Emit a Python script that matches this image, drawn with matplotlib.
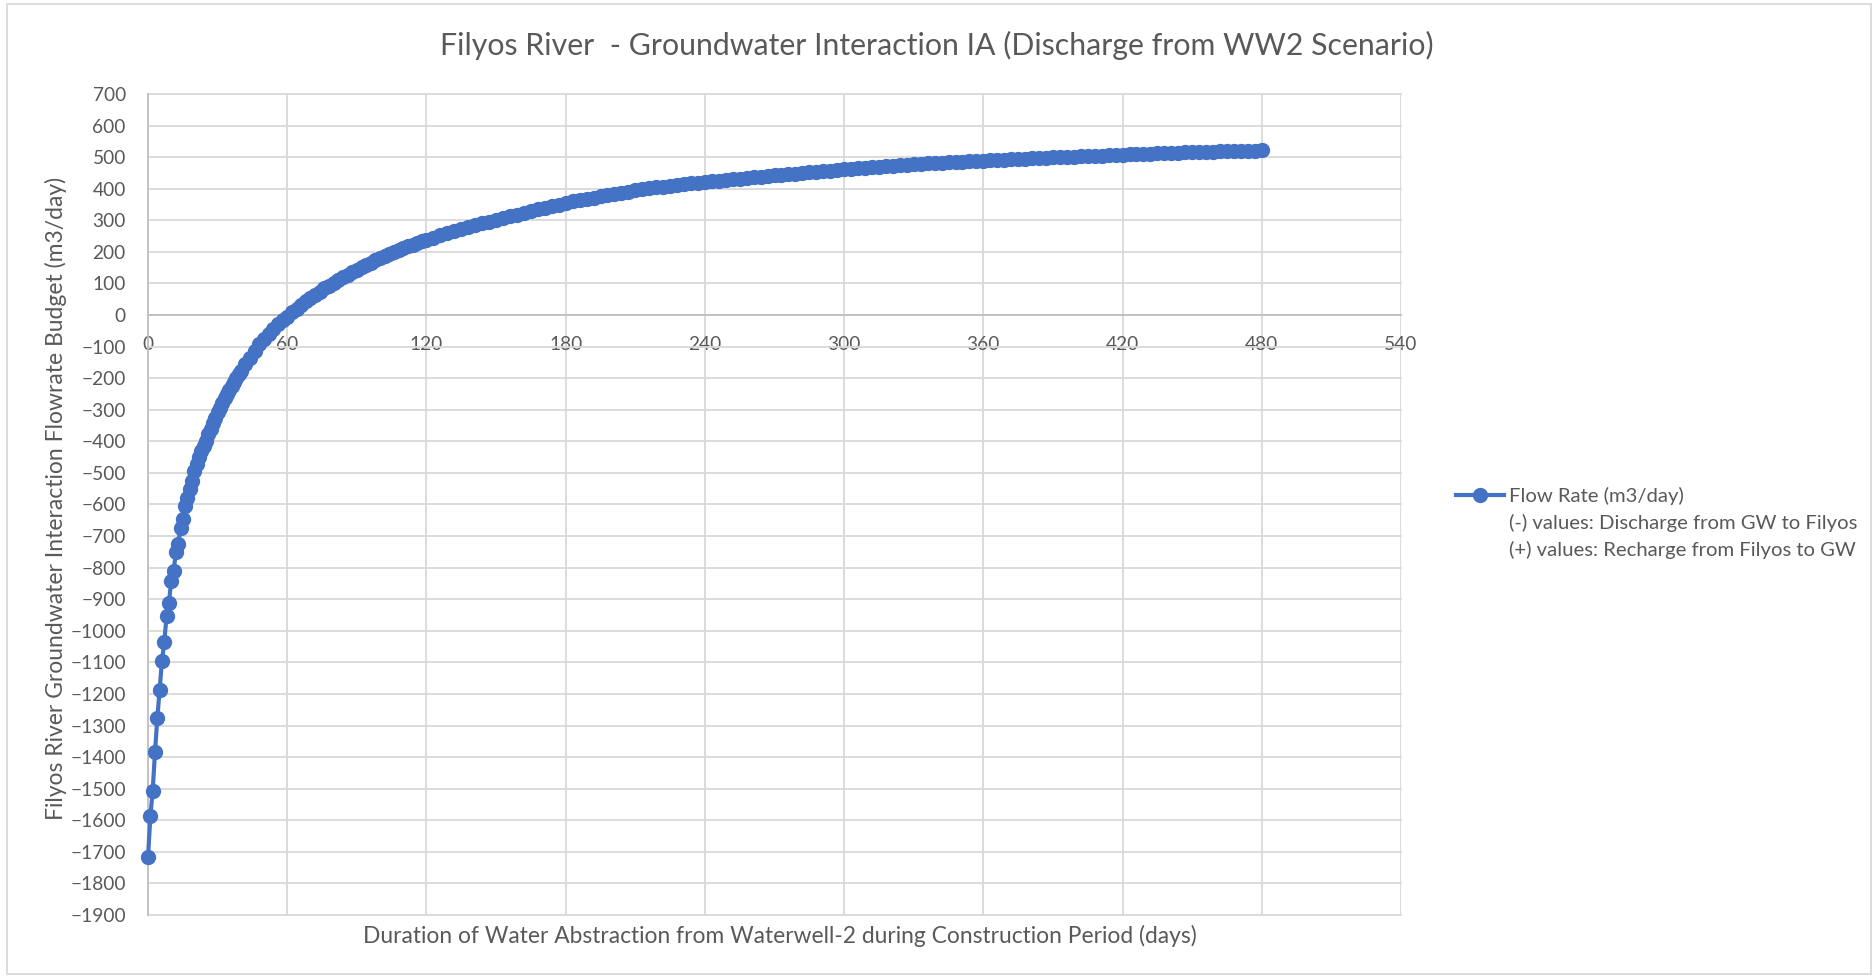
import matplotlib
matplotlib.use("Agg")
import matplotlib.pyplot as plt
from matplotlib.lines import Line2D
from matplotlib.patches import Rectangle

plt.rcParams["font.family"] = ["Lato", "DejaVu Sans"]

# flow rate (m3/day)
days_daily = list(range(0, 41))
flow_daily = [
    -1715, -1588, -1507, -1383, -1277, -1188, -1095, -1035, -952, -911,
    -841, -811, -752, -724, -673, -646, -604, -580, -550, -525,
    -495, -472, -450, -432, -414, -398, -378, -360, -342, -325,
    -308, -293, -278, -264, -250, -237, -224, -211, -199, -187,
    -176,
]

days_2day = list(range(42, 121, 2))
flow_2day = [
    -155, -135, -113, -93, -76, -59, -43, -30, -17, -5,
    8, 20, 32, 43, 54, 64, 74, 84, 93, 102,
    111, 119, 128, 136, 144, 151, 159, 166, 173, 180,
    186, 193, 199, 205, 211, 217, 222, 228, 233, 238,
]

days_3day = list(range(123, 481, 3))
flow_3day = [
    245, 252, 259, 265, 272, 278, 284, 290, 296, 301,
    307, 313, 318, 324, 329, 335, 340, 345, 350, 355,
    360, 364, 368, 372, 376, 380, 384, 388, 391, 395,
    398, 401, 404, 407, 410, 412, 415, 417, 419, 422,
    424, 426, 428, 430, 432, 434, 436, 438, 440, 442,
    444, 446, 448, 450, 452, 454, 456, 457, 459, 461,
    463, 465, 466, 468, 470, 471, 473, 474, 476, 477,
    479, 480, 481, 483, 484, 485, 486, 487, 488, 489,
    490, 491, 492, 493, 494, 495, 496, 497, 498, 499,
    500, 501, 502, 503, 504, 505, 505, 506, 507, 508,
    509, 510, 510, 511, 512, 512, 513, 514, 515, 515,
    516, 517, 517, 518, 519, 519, 520, 521, 521, 522,
]

days = days_daily + days_2day + days_3day
flow = flow_daily + flow_2day + flow_3day

x_ticks = list(range(0, 541, 60))
y_ticks = list(range(-1900, 701, 100))

title = "Filyos River  - Groundwater Interaction IA (Discharge from WW2 Scenario)"
x_title = "Duration of Water Abstraction from Waterwell-2 during Construction Period (days)"
y_title = "Filyos River Groundwater Interaction Flowrate Budget (m3/day)"
legend_lines = [
    "Flow Rate (m3/day)",
    "(-) values: Discharge from GW to Filyos",
    "(+) values: Recharge from Filyos to GW",
]

text_color = "#595959"
grid_color = "#d9d9d9"
axis_color = "#bfbfbf"
blue = "#4472C4"

fig = plt.figure(figsize=(18.74, 9.77), dpi=100)
ax = fig.add_axes([0.079, 0.0635, 0.6686, 0.8403])

line, = ax.plot(days, flow, color=blue, linewidth=3, marker="o",
                markersize=10, markeredgecolor=blue, zorder=3,
                clip_on=False)

ax.set_xlim(0, 540)
ax.set_ylim(-1900, 700)
ax.set_xticks(x_ticks)
ax.set_yticks(y_ticks)

ax.grid(True, color=grid_color, linewidth=1.3)
ax.set_axisbelow(True)
for gl in ax.get_xgridlines() + ax.get_ygridlines():
    gl.set_clip_on(False)

ax.spines["top"].set_visible(False)
ax.spines["right"].set_visible(False)
ax.spines["bottom"].set_position(("data", 0))
ax.spines["bottom"].set_color(axis_color)
ax.spines["left"].set_color(axis_color)
ax.spines["bottom"].set_linewidth(1.3)
ax.spines["left"].set_linewidth(1.3)

ax.tick_params(axis="both", length=0, labelsize=13.8, labelcolor=text_color)
ax.tick_params(axis="x", pad=15)
ax.tick_params(axis="y", pad=16)

fig.text(0.5, 1 - 45 / 977, title, ha="center", va="center",
         fontsize=21.8, color=text_color)
fig.text(780 / 1874, 1 - 936 / 977, x_title, ha="center", va="center",
         fontsize=16.4, color=text_color)
fig.text(56 / 1874, 1 - 498 / 977, y_title, ha="center", va="center",
         rotation=90, fontsize=16.5, color=text_color)

blank = Line2D([], [], linestyle="none")
ax.legend([line, blank, blank], legend_lines, loc="upper left",
          bbox_to_anchor=(1456 / 1874, 1 - 487 / 977),
          bbox_transform=fig.transFigure, frameon=False, fontsize=14.6,
          labelcolor=text_color, borderpad=0, borderaxespad=0,
          handlelength=2.35, handletextpad=0.25, labelspacing=0.43)

fig.patches.append(Rectangle((7 / 1874, 3 / 977), 1864 / 1874, 970 / 977,
                             transform=fig.transFigure, fill=False,
                             edgecolor=grid_color, linewidth=1.3))

fig.savefig("out.png", dpi=100)
